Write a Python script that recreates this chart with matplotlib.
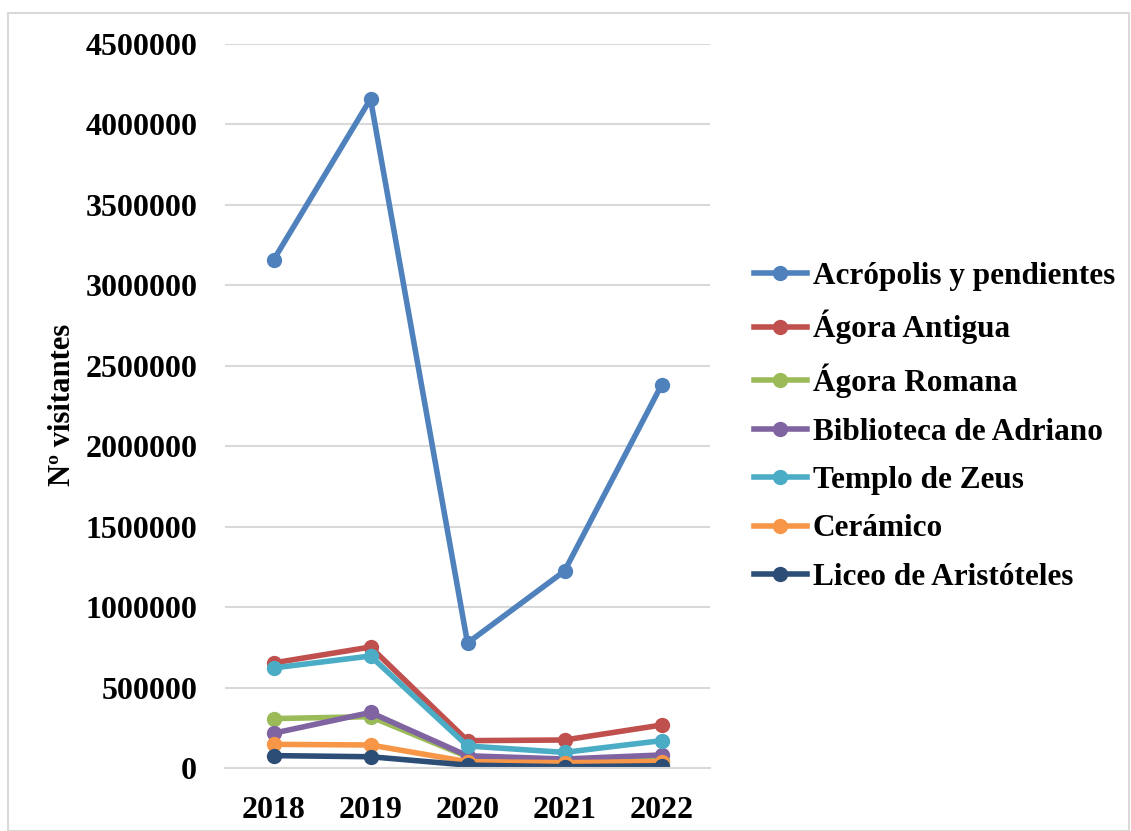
import matplotlib
matplotlib.use("Agg")
import matplotlib.pyplot as plt
from matplotlib.patches import Rectangle
from matplotlib.lines import Line2D

years = ["2018", "2019", "2020", "2021", "2022"]

acropolis = [3157000, 4158000, 777000, 1224000, 2380000]
agora_antigua = [653000, 752000, 170000, 174000, 267000]
agora_romana = [307000, 319000, 70000, 40000, 50000]
biblioteca = [216000, 345000, 76000, 56000, 81000]
templo_zeus = [622000, 696000, 137000, 97000, 170000]
ceramico = [147000, 143000, 39000, 33000, 40000]
liceo = [77000, 70000, 18000, 8000, 14000]

names = ["Acrópolis y pendientes", "Ágora Antigua", "Ágora Romana",
         "Biblioteca de Adriano", "Templo de Zeus", "Cerámico",
         "Liceo de Aristóteles"]
series = [acropolis, agora_antigua, agora_romana, biblioteca,
          templo_zeus, ceramico, liceo]
colors = ["#4f81bd", "#c0504d", "#9bbb59", "#8064a2", "#4bacc6",
          "#f79646", "#2c4d75"]

plt.rcParams["font.family"] = ["Liberation Serif", "DejaVu Serif"]
plt.rcParams["font.weight"] = "bold"

fig = plt.figure(figsize=(11.31, 8.31), dpi=100)
ax = fig.add_axes([225 / 1131, 1 - 768 / 831, 485 / 1131, 724 / 831])

x = range(len(years))
for vals, c, n in zip(series, colors, names):
    ax.plot(x, vals, color=c, lw=4, marker="o", ms=10, label=n,
            solid_capstyle="round")

ax.set_xlim(-0.5, 4.5)
ax.set_ylim(0, 4500000)
ax.set_yticks(range(0, 4500001, 500000))
ax.set_yticklabels([str(v) for v in range(0, 4500001, 500000)])
ax.set_xticks(list(x))
ax.set_xticklabels(years)
ax.tick_params(labelsize=23, length=0)
ax.tick_params(axis="y", pad=20)
ax.tick_params(axis="x", pad=20)
ax.grid(axis="y", color="#d9d9d9", lw=1.5)
ax.set_axisbelow(True)
for s in ax.spines.values():
    s.set_visible(False)
ax.spines["bottom"].set_visible(True)
ax.spines["bottom"].set_color("#d9d9d9")
ax.spines["bottom"].set_linewidth(1.5)

fig.text(62 / 1131, 1 - 405 / 831, "Nº visitantes", rotation=90,
         ha="center", va="center", fontsize=22, fontweight="bold")

handles = [Line2D([], [], color=c, lw=4, marker="o", ms=10) for c in colors]
fig.legend(handles, names, loc="upper left",
           bbox_to_anchor=(738 / 1131, 1 - 246 / 831), frameon=False,
           fontsize=22.5, handlelength=1.7, handletextpad=0.2,
           labelspacing=0.62, borderpad=0)

fig.patches.append(Rectangle((8 / 1131, 0), 1 - 8 / 1131 - 2 / 1131,
                             1 - 13 / 831, transform=fig.transFigure,
                             fill=False, edgecolor="#d9d9d9", lw=1.5))

fig.savefig("out.png", dpi=100)
